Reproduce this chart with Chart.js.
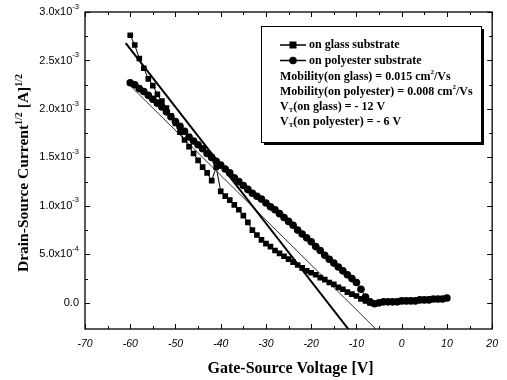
<!DOCTYPE html>
<html>
<head>
<meta charset="utf-8">
<script src="https://cdn.jsdelivr.net/npm/chart.js@4.4.1/dist/chart.umd.min.js"></script>
<style>
  html, body { margin: 0; padding: 0; background: #fff; }
  #wrap { width: 507px; height: 380px; }
</style>
</head>
<body>
<div id="wrap"><canvas id="tftChart" width="507" height="380"></canvas></div>
<script>
// gate-source voltage [V], one point per volt
const vgs = [-60,-59,-58,-57,-56,-55,-54,-53,-52,-51,-50,-49,-48,-47,-46,-45,-44,-43,-42,-41,
  -40,-39,-38,-37,-36,-35,-34,-33,-32,-31,-30,-29,-28,-27,-26,-25,-24,-23,-22,-21,
  -20,-19,-18,-17,-16,-15,-14,-13,-12,-11,-10,-9,-8,-7,-6,-5,-4,-3,-2,-1,
  0,1,2,3,4,5,6,7,8,9,10];

// sqrt(Ids) in units of 1e-3 A^1/2
const glassSqrtId = [2.76,2.66,2.52,2.42,2.31,2.24,2.15,2.08,2.01,1.93,
  1.85,1.76,1.68,1.61,1.54,1.47,1.40,1.34,1.26,1.40,
  1.15,1.10,1.06,1.01,0.96,0.90,0.83,0.75,0.70,0.65,
  0.61,0.58,0.54,0.51,0.48,0.45,0.42,0.39,0.36,0.33,
  0.31,0.29,0.26,0.24,0.21,0.19,0.16,0.14,0.11,0.09,
  0.07,0.04,0.02,0.00,-0.01,0.00,0.01,0.01,0.01,0.01,
  0.02,0.02,0.02,0.02,0.03,0.03,0.03,0.04,0.04,0.04,0.05];

const polySqrtId = [2.27,2.25,2.21,2.18,2.14,2.10,2.06,2.02,1.97,1.92,
  1.87,1.82,1.77,1.71,1.67,1.63,1.59,1.54,1.50,1.46,
  1.42,1.38,1.34,1.29,1.25,1.21,1.17,1.13,1.10,1.07,
  1.03,0.99,0.96,0.92,0.88,0.84,0.80,0.75,0.71,0.67,
  0.63,0.58,0.54,0.49,0.45,0.41,0.37,0.33,0.29,0.25,
  0.21,0.14,0.06,0.01,-0.01,0.00,0.01,0.01,0.01,0.01,
  0.02,0.02,0.02,0.02,0.03,0.03,0.03,0.04,0.04,0.04,0.05];

// linear fits (endpoints as seen on the plot)
const glassFitX = [-61, -11.8];
const glassFitY = [2.68, -0.27];
const polyFitX = [-60, -5.7];
const polyFitY = [2.24, -0.27];

const yTicks = [0, 0.5, 1.0, 1.5, 2.0, 2.5, 3.0];
const yTickLabels = [['0.0',''],['5.0x10','-4'],['1.0x10','-3'],['1.5x10','-3'],
  ['2.0x10','-3'],['2.5x10','-3'],['3.0x10','-3']];

const legendLines = [
  [['Mobility(on glass) = 0.015 cm', 0], ['2', -1], ['/Vs', 0]],
  [['Mobility(on polyester) = 0.008 cm', 0], ['2', -1], ['/Vs', 0]],
  [['V', 0], ['T', 1], ['(on glass) = - 12 V', 0]],
  [['V', 0], ['T', 1], ['(on polyester) = - 6 V', 0]]
];

const SERIF = '"Liberation Serif", "Times New Roman", serif';
const SANS = '"Liberation Sans", Arial, sans-serif';

function pts(xs, ys) { return xs.map((x, i) => ({ x: x, y: ys[i] })); }

// draws text pieces; level -1 = superscript, 1 = subscript
function drawRich(ctx, parts, x, y, size, bold) {
  let cx = x;
  parts.forEach(([t, lvl]) => {
    const s = lvl ? Math.round(size * 0.62) : size;
    ctx.font = (bold ? 'bold ' : '') + s + 'px ' + SERIF;
    const dy = lvl < 0 ? -size * 0.38 : (lvl > 0 ? size * 0.25 : 0);
    ctx.fillText(t, cx, y + dy);
    cx += ctx.measureText(t).width;
  });
  return cx - x;
}
function richWidth(ctx, parts, size, bold) {
  let w = 0;
  parts.forEach(([t, lvl]) => {
    const s = lvl ? Math.round(size * 0.62) : size;
    ctx.font = (bold ? 'bold ' : '') + s + 'px ' + SERIF;
    w += ctx.measureText(t).width;
  });
  return w;
}

const framePlugin = {
  id: 'frame',
  afterDraw(chart) {
    const ctx = chart.ctx, a = chart.chartArea;
    const xs = chart.scales.x, ys = chart.scales.y;
    ctx.save();
    ctx.strokeStyle = '#000';
    ctx.lineWidth = 1.3;
    ctx.strokeRect(a.left, a.top, a.right - a.left, a.bottom - a.top);

    // inward ticks
    ctx.lineWidth = 1;
    ctx.beginPath();
    for (let v = -70; v <= 20; v += 5) {
      const px = Math.round(xs.getPixelForValue(v)) + 0.5;
      const len = v % 10 === 0 ? 5 : 3;
      ctx.moveTo(px, a.bottom); ctx.lineTo(px, a.bottom - len);
      ctx.moveTo(px, a.top); ctx.lineTo(px, a.top + len);
    }
    for (let v = 0; v <= 3.0001; v += 0.25) {
      const py = Math.round(ys.getPixelForValue(v)) + 0.5;
      const len = Math.abs(v * 2 - Math.round(v * 2)) < 1e-6 ? 5 : 3;
      ctx.moveTo(a.left, py); ctx.lineTo(a.left + len, py);
      ctx.moveTo(a.right, py); ctx.lineTo(a.right - len, py);
    }
    ctx.stroke();

    // y tick labels with exponents
    ctx.fillStyle = '#000';
    ctx.textBaseline = 'middle';
    ctx.textAlign = 'left';
    yTicks.forEach((v, i) => {
      const py = ys.getPixelForValue(v);
      const [m, e] = yTickLabels[i];
      ctx.font = '11px ' + SANS;
      const wm = ctx.measureText(m).width;
      ctx.font = '7.5px ' + SANS;
      const we = e ? ctx.measureText(e).width : 0;
      const x0 = a.left - 6 - wm - we;
      ctx.font = '11px ' + SANS;
      ctx.fillText(m, x0, py);
      if (e) { ctx.font = '7.5px ' + SANS; ctx.fillText(e, x0 + wm, py - 5.5); }
    });

    // axis titles
    ctx.textBaseline = 'alphabetic';
    ctx.font = 'bold 16px ' + SERIF;
    ctx.textAlign = 'center';
    ctx.fillText('Gate-Source Voltage [V]', (a.left + a.right) / 2 + 2, 373);

    const yParts = [['Drain-Source Current', 0], ['1/2', -1], [' [A]', 0], ['1/2', -1]];
    ctx.textAlign = 'left';
    const w = richWidth(ctx, yParts, 15.5, true);
    ctx.translate(28, 173);
    ctx.rotate(-Math.PI / 2);
    drawRich(ctx, yParts, -w / 2, 0, 15.5, true);
    ctx.restore();

    // legend box
    ctx.save();
    const bx = 261, by = 26, bw = 220, bh = 116;
    ctx.fillStyle = '#000';
    ctx.fillRect(bx + 3, by + 3, bw, bh);
    ctx.fillStyle = '#fff';
    ctx.fillRect(bx, by, bw, bh);
    ctx.strokeStyle = '#000';
    ctx.lineWidth = 1;
    ctx.strokeRect(bx + 0.5, by + 0.5, bw, bh);

    ctx.fillStyle = '#000';
    ctx.lineWidth = 1.5;
    const rows = [['on glass substrate', 'rect', 45], ['on polyester substrate', 'circle', 60.5]];
    rows.forEach(([label, shape, yy]) => {
      ctx.beginPath(); ctx.moveTo(280, yy); ctx.lineTo(306, yy); ctx.stroke();
      if (shape === 'rect') ctx.fillRect(289.5, yy - 3.5, 7, 7);
      else { ctx.beginPath(); ctx.arc(293, yy, 3.8, 0, Math.PI * 2); ctx.fill(); }
      ctx.font = 'bold 12px ' + SERIF;
      ctx.textBaseline = 'middle';
      ctx.fillText(label, 309, yy);
    });
    ctx.textBaseline = 'middle';
    legendLines.forEach((parts, i) => {
      drawRich(ctx, parts, 280, 76.5 + i * 15.2, 12, true);
    });
    ctx.restore();
  }
};

new Chart(document.getElementById('tftChart'), {
  type: 'scatter',
  data: {
    datasets: [
      {
        label: 'on glass substrate',
        data: pts(vgs, glassSqrtId),
        showLine: true,
        borderColor: '#000', borderWidth: 1,
        backgroundColor: '#000',
        pointStyle: 'rect', pointRadius: 4, pointBorderWidth: 0
      },
      {
        label: 'on polyester substrate',
        data: pts(vgs, polySqrtId),
        showLine: true,
        borderColor: '#000', borderWidth: 1,
        backgroundColor: '#000',
        pointStyle: 'circle', pointRadius: 3.8, pointBorderWidth: 0
      },
      {
        label: 'fit glass',
        data: pts(glassFitX, glassFitY),
        showLine: true, borderColor: '#000', borderWidth: 2, pointRadius: 0
      },
      {
        label: 'fit polyester',
        data: pts(polyFitX, polyFitY),
        showLine: true, borderColor: '#000', borderWidth: 0.8, pointRadius: 0
      }
    ]
  },
  options: {
    responsive: false,
    animation: false,
    layout: { padding: { left: 0, right: 5, top: 12, bottom: 0 } },
    plugins: { legend: { display: false }, tooltip: { enabled: false } },
    scales: {
      x: {
        type: 'linear', min: -70, max: 20,
        grid: { display: false, drawTicks: false },
        border: { display: false },
        ticks: {
          stepSize: 10, padding: 9, color: '#000',
          font: { family: SANS, size: 10.5, style: 'italic' }
        },
        afterFit: (s) => { s.height = 51; }
      },
      y: {
        type: 'linear', min: -0.27, max: 3.0,
        grid: { display: false, drawTicks: false },
        border: { display: false },
        ticks: { display: false },
        afterFit: (s) => { s.width = 85; }
      }
    }
  },
  plugins: [framePlugin]
});
</script>
</body>
</html>
